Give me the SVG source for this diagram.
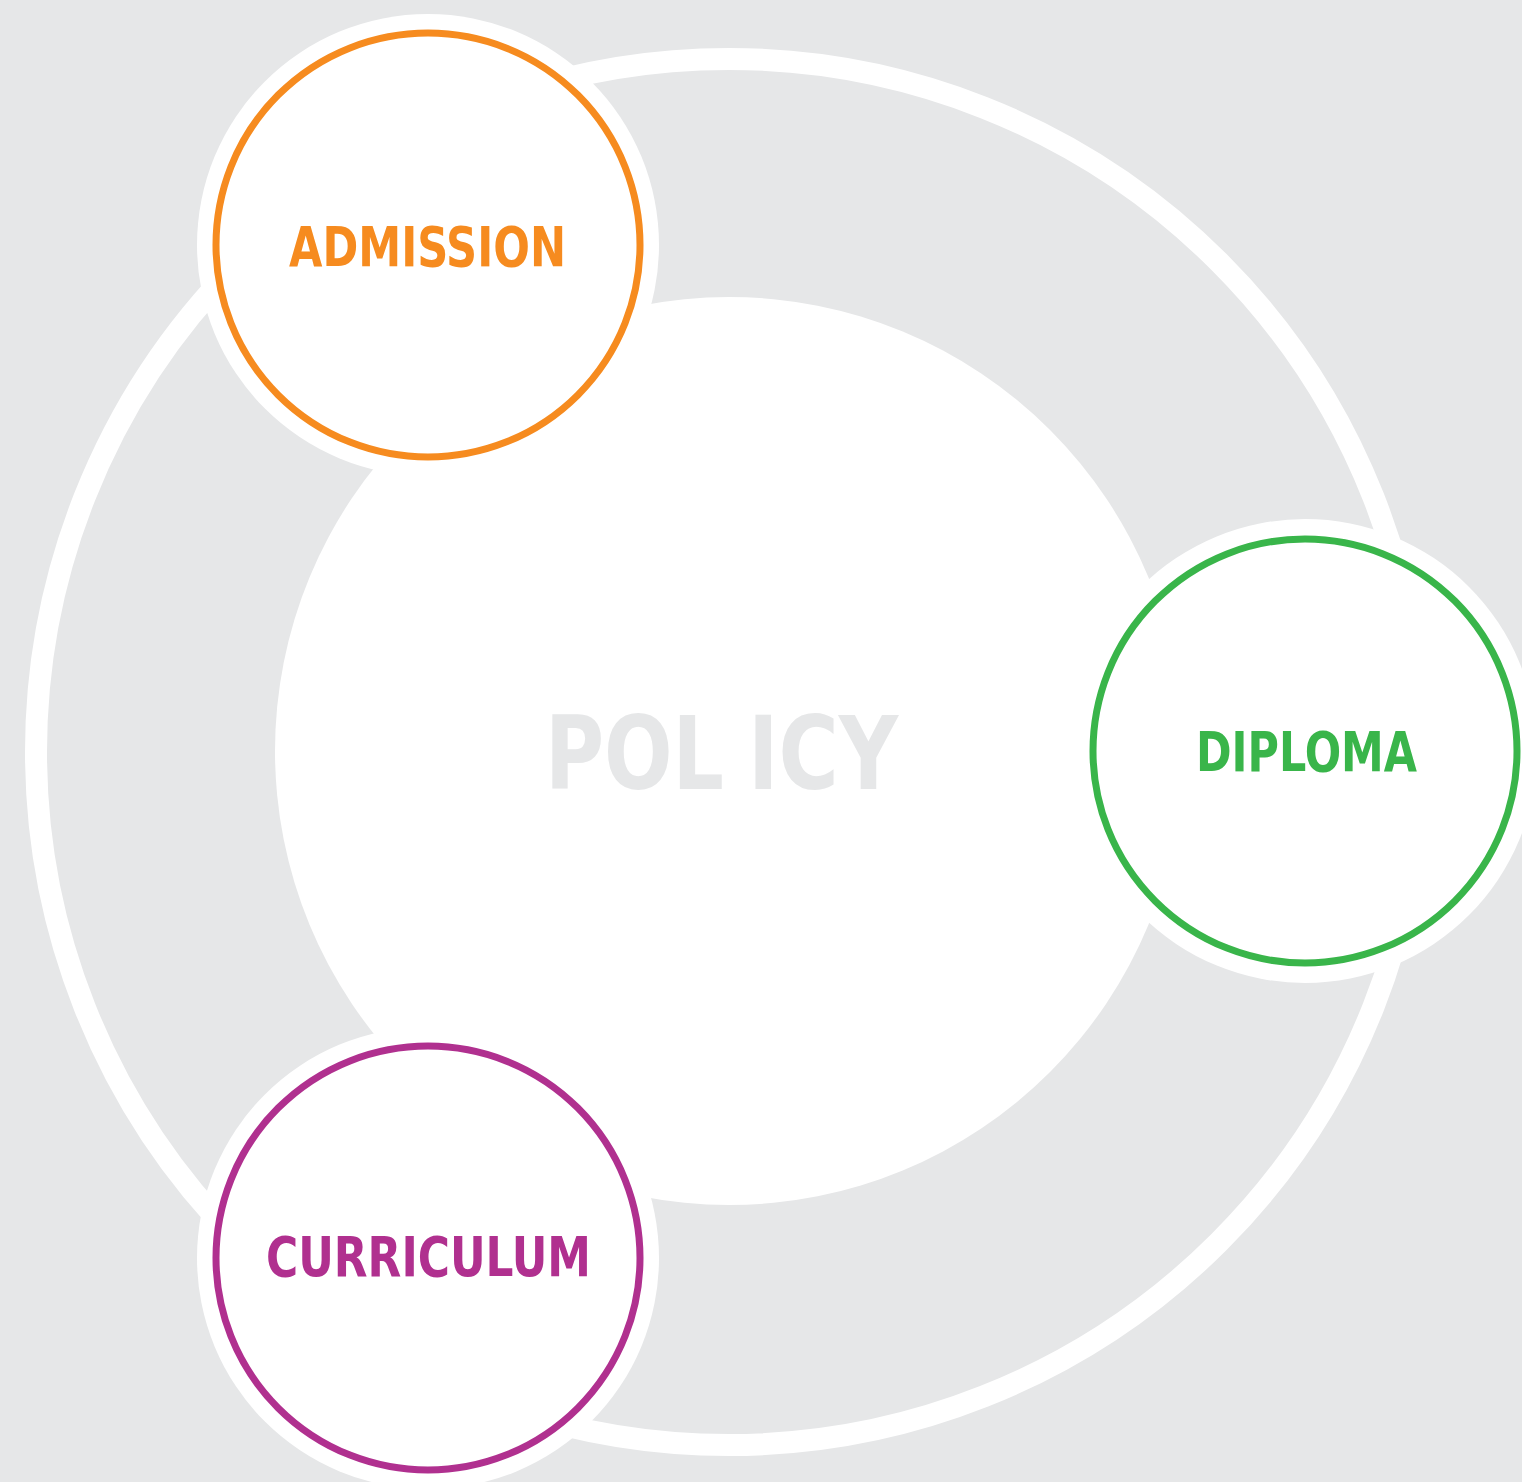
<svg xmlns="http://www.w3.org/2000/svg" width="1522" height="1482" viewBox="0 0 1522 1482">
<style>
.bg{fill:#e6e7e8}
.white{fill:#ffffff}
.halo{fill:#ffffff}
.ring{fill:#ffffff;stroke-width:7}
.lbl{font-family:"DejaVu Sans Condensed","DejaVu Sans","Liberation Sans",sans-serif;font-weight:bold;font-size:55px}
.policy{font-family:"DejaVu Sans Condensed","DejaVu Sans","Liberation Sans",sans-serif;font-weight:bold;font-size:102px;fill:#e6e7e8}
</style>
<rect class="bg" x="0" y="0" width="1522" height="1482"/>
<g id="connectors">
<circle cx="729" cy="752" r="693" fill="none" stroke="#ffffff" stroke-width="22"/>
</g>
<g id="policy">
<circle class="white" cx="729" cy="751" r="454"/>
<text class="policy"><tspan x="545" y="789" textLength="179" lengthAdjust="spacingAndGlyphs">POL</tspan><tspan x="748" y="789" textLength="150" lengthAdjust="spacingAndGlyphs">ICY</tspan></text>
</g>
<g id="admission">
<circle class="halo" cx="428" cy="245" r="231"/>
<circle class="ring" cx="428" cy="245" r="212" stroke="#f68b1f"/>
<text class="lbl" x="289" y="266" fill="#f68b1f" textLength="277" lengthAdjust="spacingAndGlyphs">ADMISSION</text>
</g>
<g id="diploma">
<circle class="halo" cx="1305" cy="751" r="232"/>
<circle class="ring" cx="1305" cy="751" r="212" stroke="#39b54a"/>
<text class="lbl" x="1196" y="771" fill="#39b54a" textLength="221" lengthAdjust="spacingAndGlyphs">DIPLOMA</text>
</g>
<g id="curriculum">
<circle class="halo" cx="428" cy="1258" r="231"/>
<circle class="ring" cx="428" cy="1258" r="212" stroke="#b0308f"/>
<text class="lbl" x="266" y="1276" fill="#b0308f" textLength="325" lengthAdjust="spacingAndGlyphs">CURRICULUM</text>
</g>
</svg>
